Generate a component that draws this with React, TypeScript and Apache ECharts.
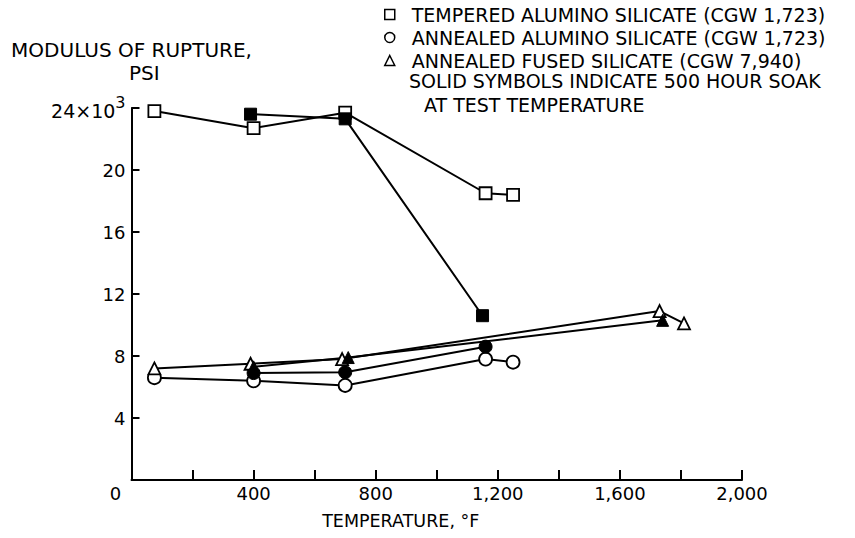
import React, { useEffect, useRef } from "react";
import * as echarts from "echarts";

const temperedOpen: [number, number][] = [[75, 23.8], [400, 22.7], [700, 23.7], [1160, 18.5], [1250, 18.4]];
const temperedSolid: [number, number][] = [[390, 23.6], [700, 23.3], [1150, 10.6]];
const aluminoOpen: [number, number][] = [[75, 6.6], [400, 6.4], [700, 6.1], [1160, 7.8], [1250, 7.6]];
const aluminoSolid: [number, number][] = [[400, 6.9], [700, 6.95], [1160, 8.6]];
const fusedOpen: [number, number][] = [[75, 7.2], [390, 7.5], [690, 7.8], [1730, 10.9], [1810, 10.1]];
const fusedSolid: [number, number][] = [[400, 7.3], [710, 7.9], [1740, 10.3]];

const legendNames = [
  "TEMPERED ALUMINO SILICATE (CGW 1,723)",
  "ANNEALED ALUMINO SILICATE (CGW 1,723)",
  "ANNEALED FUSED SILICATE (CGW 7,940)",
];
const noteLines = ["SOLID SYMBOLS INDICATE 500 HOUR SOAK", "AT TEST TEMPERATURE"];
const yTitle = "MODULUS OF RUPTURE,\n    PSI";
const xTitle = "TEMPERATURE, °F";

const FONT = "DejaVu Sans";

export default function App() {
  const ref = useRef<HTMLDivElement>(null);
  useEffect(() => {
    if (!ref.current) return;
    const chart = echarts.init(ref.current, null, { renderer: "svg" });
    const openStyle = { color: "#fff", borderColor: "#000", borderWidth: 1.8 };
    const solidStyle = { color: "#000", borderColor: "#000", borderWidth: 1 };
    const mk = (name: string, data: [number, number][], symbol: string, size: number, open: boolean) => ({
      name,
      type: "line",
      data,
      symbol,
      symbolSize: size,
      showAllSymbol: true,
      lineStyle: { color: "#000", width: 2 },
      itemStyle: open ? openStyle : solidStyle,
      z: 3,
    });
    chart.setOption({
      animation: false,
      backgroundColor: "#fff",
      textStyle: { fontFamily: FONT, color: "#000" },
      grid: { left: 131.5, right: 113, top: 108, bottom: 58 },
      legend: {
        orient: "vertical",
        left: 379,
        top: 0,
        itemGap: 4,
        itemWidth: 10,
        itemHeight: 10,
        textStyle: { fontFamily: FONT, fontSize: 19, lineHeight: 18, color: "#000", padding: [0, 0, 0, 12] },
        data: [
          { name: legendNames[0], icon: "rect", itemStyle: { color: "#fff", borderColor: "#000", borderWidth: 1.5 } },
          { name: legendNames[1], icon: "circle", itemStyle: { color: "#fff", borderColor: "#000", borderWidth: 1.5 } },
          { name: legendNames[2], icon: "triangle", itemStyle: { color: "#fff", borderColor: "#000", borderWidth: 1.5 } },
        ],
      },
      xAxis: {
        type: "value",
        min: 0,
        max: 2000,
        interval: 200,
        name: xTitle,
        nameLocation: "middle",
        nameGap: 32,
        nameTextStyle: { fontFamily: FONT, fontSize: 17.5, color: "#000", padding: [0, 72, 0, 0] },
        axisLine: { show: true, lineStyle: { color: "#000", width: 2 } },
        axisTick: { show: true, inside: true, length: 10, lineStyle: { color: "#000", width: 2 } },
        splitLine: { show: false },
        axisLabel: {
          color: "#000",
          fontFamily: FONT,
          fontSize: 18,
          margin: 4,
          formatter: (v: number) => {
            if (v === 0) return "{z|0}";
            if (v % 400 === 0) return v.toLocaleString("en-US");
            return "";
          },
          rich: { z: { fontFamily: FONT, fontSize: 18, padding: [0, 32, 0, 0] } },
        },
      },
      yAxis: {
        type: "value",
        min: 0,
        max: 24,
        interval: 4,
        name: yTitle,
        nameLocation: "end",
        nameGap: 24,
        nameTextStyle: { fontFamily: FONT, fontSize: 20, color: "#000", align: "center", lineHeight: 23 },
        axisLine: { show: true, lineStyle: { color: "#000", width: 2 } },
        axisTick: { show: true, inside: true, length: 8, lineStyle: { color: "#000", width: 2 } },
        splitLine: { show: false },
        axisLabel: {
          color: "#000",
          fontFamily: FONT,
          fontSize: 18,
          margin: 6,
          formatter: (v: number) => {
            if (v === 0) return "";
            if (v === 24) return "{a|24×10}{s|3}";
            return String(v);
          },
          rich: {
            a: { fontFamily: FONT, fontSize: 19, padding: [6, 0, 0, 0] },
            s: { fontFamily: FONT, fontSize: 16, verticalAlign: "top", padding: [0, 0, 12, 0] },
          },
        },
      },
      graphic: [
        { type: "text", left: 409, top: 71, style: { text: noteLines[0], font: `19px "${FONT}"`, fill: "#000" } },
        { type: "text", left: 424, top: 95, style: { text: noteLines[1], font: `19px "${FONT}"`, fill: "#000" } },
      ],
      series: [
        mk(legendNames[0], temperedOpen, "rect", 12, true),
        mk("Tempered, 500 h soak", temperedSolid, "rect", 12, false),
        mk(legendNames[1], aluminoOpen, "circle", 13, true),
        mk("Annealed alumino, 500 h soak", aluminoSolid, "circle", 13, false),
        mk(legendNames[2], fusedOpen, "triangle", 12, true),
        mk("Fused, 500 h soak", fusedSolid, "triangle", 12, false),
      ],
    });
    return () => chart.dispose();
  }, []);
  return <div ref={ref} style={{ position: "absolute", left: 0, top: 0, width: 855, height: 538 }} />;
}
